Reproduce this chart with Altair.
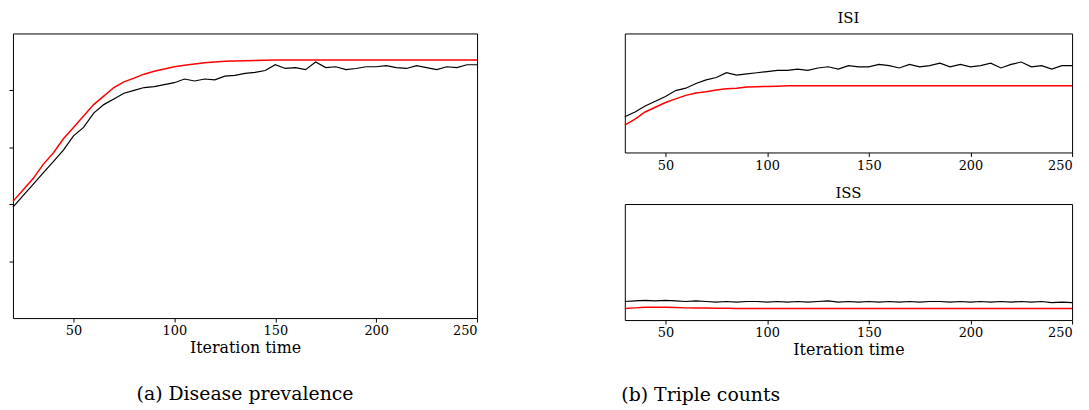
import altair as alt
import pandas as pd

FONT = "DejaVu Serif"

# Disease prevalence (left)
prev_t = [20, 25, 30, 35, 40, 45, 50, 55, 60, 65, 70, 75, 80, 85, 90, 95, 100, 105, 110, 115, 120, 125,
          130, 135, 140, 145, 150, 155, 160, 165, 170, 175, 180, 185, 190, 195, 200, 205, 210, 215, 220,
          225, 230, 235, 240, 245, 250]
prev_model = [0.41, 0.45, 0.49, 0.54, 0.58, 0.63, 0.67, 0.71, 0.75, 0.78, 0.81, 0.83, 0.843, 0.857, 0.867,
              0.875, 0.883, 0.888, 0.893, 0.897, 0.90, 0.902, 0.903, 0.904, 0.905, 0.906, 0.907, 0.907,
              0.907, 0.907, 0.907, 0.907, 0.907, 0.907, 0.907, 0.907, 0.907, 0.907, 0.907, 0.907, 0.907,
              0.907, 0.907, 0.907, 0.907, 0.907, 0.907]
prev_sim = [0.39, 0.43, 0.47, 0.51, 0.55, 0.59, 0.64, 0.67, 0.72, 0.75, 0.77, 0.79, 0.80, 0.81, 0.813,
            0.82, 0.827, 0.84, 0.833, 0.84, 0.837, 0.85, 0.853, 0.86, 0.863, 0.87, 0.89, 0.877, 0.88,
            0.873, 0.90, 0.88, 0.883, 0.873, 0.877, 0.883, 0.883, 0.887, 0.88, 0.877, 0.887, 0.88, 0.873,
            0.883, 0.88, 0.89, 0.89]

# Triple counts (right)
tri_t = [30, 35, 40, 45, 50, 55, 60, 65, 70, 75, 80, 85, 90, 95, 100, 105, 110, 115, 120, 125, 130, 135,
         140, 145, 150, 155, 160, 165, 170, 175, 180, 185, 190, 195, 200, 205, 210, 215, 220, 225, 230,
         235, 240, 245, 250]
isi_model = [0.23, 0.28, 0.34, 0.38, 0.42, 0.45, 0.48, 0.50, 0.51, 0.525, 0.535, 0.54, 0.55, 0.552, 0.555,
             0.557, 0.56, 0.56, 0.56, 0.56, 0.56, 0.56, 0.56, 0.56, 0.56, 0.56, 0.56, 0.56, 0.56, 0.56,
             0.56, 0.56, 0.56, 0.56, 0.56, 0.56, 0.56, 0.56, 0.56, 0.56, 0.56, 0.56, 0.56, 0.56, 0.56]
isi_sim = [0.30, 0.34, 0.39, 0.43, 0.47, 0.52, 0.54, 0.58, 0.61, 0.63, 0.67, 0.65, 0.66, 0.67, 0.68, 0.69,
           0.69, 0.70, 0.69, 0.71, 0.72, 0.70, 0.73, 0.72, 0.72, 0.74, 0.73, 0.71, 0.74, 0.72, 0.73, 0.75,
           0.72, 0.74, 0.72, 0.73, 0.75, 0.71, 0.74, 0.76, 0.72, 0.73, 0.70, 0.73, 0.73]
iss_model = [0.10, 0.105, 0.11, 0.11, 0.11, 0.108, 0.105, 0.104, 0.103, 0.102, 0.101, 0.10, 0.10, 0.10,
             0.10, 0.10, 0.10, 0.10, 0.10, 0.10, 0.10, 0.10, 0.10, 0.10, 0.10, 0.10, 0.10, 0.10, 0.10,
             0.10, 0.10, 0.10, 0.10, 0.10, 0.10, 0.10, 0.10, 0.10, 0.10, 0.10, 0.10, 0.10, 0.10, 0.10, 0.10]
iss_sim = [0.16, 0.165, 0.17, 0.165, 0.17, 0.165, 0.16, 0.165, 0.16, 0.155, 0.16, 0.155, 0.16, 0.16,
           0.155, 0.16, 0.155, 0.16, 0.155, 0.16, 0.165, 0.155, 0.16, 0.155, 0.16, 0.155, 0.16, 0.155,
           0.16, 0.155, 0.16, 0.16, 0.155, 0.16, 0.155, 0.16, 0.155, 0.16, 0.155, 0.16, 0.155, 0.16,
           0.15, 0.155, 0.15]


def panel(t, model, sim, xdom, width, height, ytitle_ticks, xtitle, title=None, title_offset=3):
    df = pd.DataFrame({"t": t, "model": model, "sim": sim})
    x = alt.X("t:Q", scale=alt.Scale(domain=xdom, nice=False, zero=False),
              axis=alt.Axis(values=[50, 100, 150, 200, 250], grid=False, domain=False,
                            tickSize=4, title=xtitle, titleFontWeight="normal"))
    yaxis = alt.Axis(labels=False, grid=False, domain=False, title=None,
                     tickSize=4 if ytitle_ticks else 0, values=[0.2, 0.4, 0.6, 0.8])
    ys = alt.Scale(domain=[0, 1], nice=False)
    base = alt.Chart(df)
    sim_l = base.mark_line(color="black", strokeWidth=1.2).encode(x=x, y=alt.Y("sim:Q", scale=ys, axis=yaxis))
    mod_l = base.mark_line(color="#ff0000", strokeWidth=1.5).encode(x=x, y=alt.Y("model:Q", scale=ys, axis=yaxis))
    props = dict(width=width, height=height)
    if title:
        props["title"] = alt.TitleParams(title, fontWeight="normal", fontSize=15, font=FONT,
                                         offset=title_offset)
    return alt.layer(sim_l, mod_l).properties(**props)


left = panel(prev_t, prev_model, prev_sim, [20, 250], 468, 287, True, "Iteration time").properties(
    title=alt.TitleParams("(a)  Disease prevalence", orient="bottom", fontSize=19, fontWeight="normal",
                          font=FONT, offset=30))
isi = panel(tri_t, isi_model, isi_sim, [30, 250], 451, 120, False, None, "ISI", 8)
iss = panel(tri_t, iss_model, iss_sim, [30, 250], 451, 117, False, "Iteration time", "ISS")
right = alt.vconcat(isi, iss, spacing=12).properties(
    title=alt.TitleParams("(b)  Triple counts", orient="bottom", fontSize=19, fontWeight="normal",
                          font=FONT, offset=28))

chart = alt.hconcat(left, right, spacing=141).configure(
    padding={"left": 0, "top": 0, "right": 5, "bottom": 0}
).configure_view(stroke="black", strokeWidth=1).configure_axis(
    labelFont=FONT, titleFont=FONT, labelFontSize=13, titleFontSize=16, labelColor="black",
    titleColor="black", tickColor="black", labelPadding=3, titlePadding=2
)

chart.save("out.html", embed_options={"renderer": "svg", "actions": False})
